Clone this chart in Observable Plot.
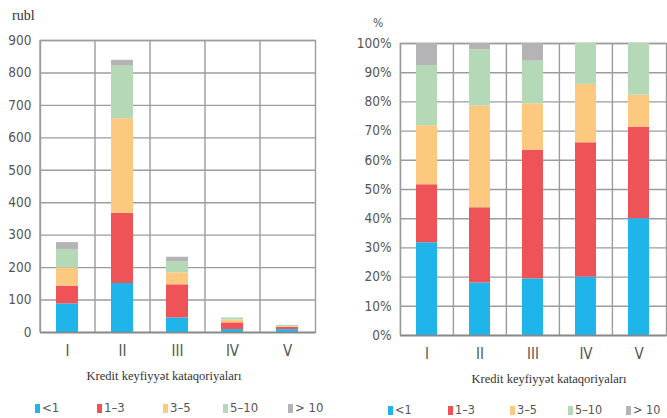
<!DOCTYPE html>
<html>
<head>
<meta charset="utf-8">
<script src="https://cdn.jsdelivr.net/npm/d3@7"></script>
<script src="https://cdn.jsdelivr.net/npm/@observablehq/plot@0.6"></script>
<style>
  html, body { margin: 0; padding: 0; background: #fff; width: 667px; height: 418px; overflow: hidden; position: relative; }
  .abs { position: absolute; white-space: nowrap; }
  .serif { font-family: "Liberation Serif", "DejaVu Serif", serif; color: #333; }
  .narrow { font-family: "Liberation Sans Narrow", "DejaVu Sans Condensed", "Roboto", sans-serif; color: #555; }
  .sw { display: inline-block; width: 5px; height: 9px; margin-right: 2px; vertical-align: -1px; }
</style>
</head>
<body>
<div id="root"></div>
<script>
const categories = ["I", "II", "III", "IV", "V"];
const series = ["<1", "1–3", "3–5", "5–10", "> 10"];
const colors = ["#1fb5ea", "#ee5357", "#fdc980", "#b5d8b7", "#b4b4b6"];
const vLt1   = [88, 151, 45, 9, 8.8];
const v1to3  = [55, 216, 102, 20.7, 6.9];
const v3to5  = [56, 292, 37, 9, 2.4];
const v5to10 = [57, 162, 34, 6.3, 3.9];
const vGt10  = [21, 18, 14, 0, 0];
const leftTicks = [0, 100, 200, 300, 400, 500, 600, 700, 800, 900];
const rightTicks = [0, 0.1, 0.2, 0.3, 0.4, 0.5, 0.6, 0.7, 0.8, 0.9, 1];
const xTitle = "Kredit keyfiyyət kataqoriyaları";

const seriesValues = [vLt1, v1to3, v3to5, v5to10, vGt10];
const table = [];
series.forEach((s, si) => categories.forEach((c, ci) => table.push({cat: c, series: s, value: seriesValues[si][ci]})));

const root = document.getElementById("root");
function add(html, cls, left, top, extra = "") {
  const d = document.createElement("div");
  d.className = "abs " + cls;
  d.style.left = left + "px"; d.style.top = top + "px";
  if (extra) d.style.cssText += extra;
  d.innerHTML = html;
  root.appendChild(d);
  return d;
}
const gridColor = "#9c9c9c";

function makeChart({width, height, mL, mR, mT, mB, normalize, ticks, fmt}) {
  const step = (width - mL - mR) / categories.length;
  return Plot.plot({
    width, height, marginLeft: mL, marginRight: mR, marginTop: mT, marginBottom: mB,
    style: {fontFamily: '"Liberation Sans Narrow", "DejaVu Sans Condensed", sans-serif', fontSize: "13px", color: "#555", background: "#fff"},
    x: {domain: categories, paddingInner: 0.6, paddingOuter: 0.3, align: 0.5},
    y: {domain: normalize ? [0, 1] : [0, 900]},
    color: {domain: series, range: colors},
    marks: [
      Plot.ruleY(ticks, {stroke: gridColor, strokeWidth: 1.4}),
      Plot.ruleX(categories, {x: d => d, dx: -step / 2, stroke: gridColor, strokeWidth: 1.4}),
      Plot.frame({stroke: gridColor, strokeWidth: 1.4}),
      Plot.barY(table, {x: "cat", y: "value", fill: "series", offset: normalize ? "normalize" : null}),
      Plot.ruleY([0], {stroke: "#888", strokeWidth: 1.6}),
      Plot.axisY({ticks, tickSize: 0, tickPadding: 9, tickFormat: fmt, label: null, fontSize: 13.5}),
      Plot.axisX({tickSize: 0, tickPadding: 13, label: null, fontSize: 15})
    ]
  });
}

const left = makeChart({width: 330, height: 340, mL: 40, mR: 15, mT: 10, mB: 38, normalize: false, ticks: leftTicks, fmt: d3.format("d")});
const lw = document.createElement("div"); lw.className = "abs"; lw.style.left = "0px"; lw.style.top = "30px";
lw.appendChild(left); root.appendChild(lw);

const right = makeChart({width: 337, height: 343, mL: 70, mR: 1, mT: 13, mB: 38, normalize: true, ticks: rightTicks, fmt: d3.format(".0%")});
const rw = document.createElement("div"); rw.className = "abs"; rw.style.left = "330px"; rw.style.top = "30px";
rw.appendChild(right); root.appendChild(rw);

add("rubl", "serif", 12, 8, "font-size:14px;");
add("%", "narrow", 373, 16, "font-size:12px;");
add(xTitle, "serif", 164, 369, "font-size:12.5px;transform:translateX(-50%);");
add(xTitle, "serif", 549, 372, "font-size:12.5px;transform:translateX(-50%);");

const legLeftX = [35, 97, 163, 223, 288];
const legRightX = [388, 448, 510, 568, 626];
series.forEach((s, i) => {
  add(`<span class="sw" style="background:${colors[i]}"></span>${s}`, "narrow", legLeftX[i], 400, "font-size:13px;");
  add(`<span class="sw" style="background:${colors[i]}"></span>${s}`, "narrow", legRightX[i], 402, "font-size:12.5px;");
});
</script>
</body>
</html>
